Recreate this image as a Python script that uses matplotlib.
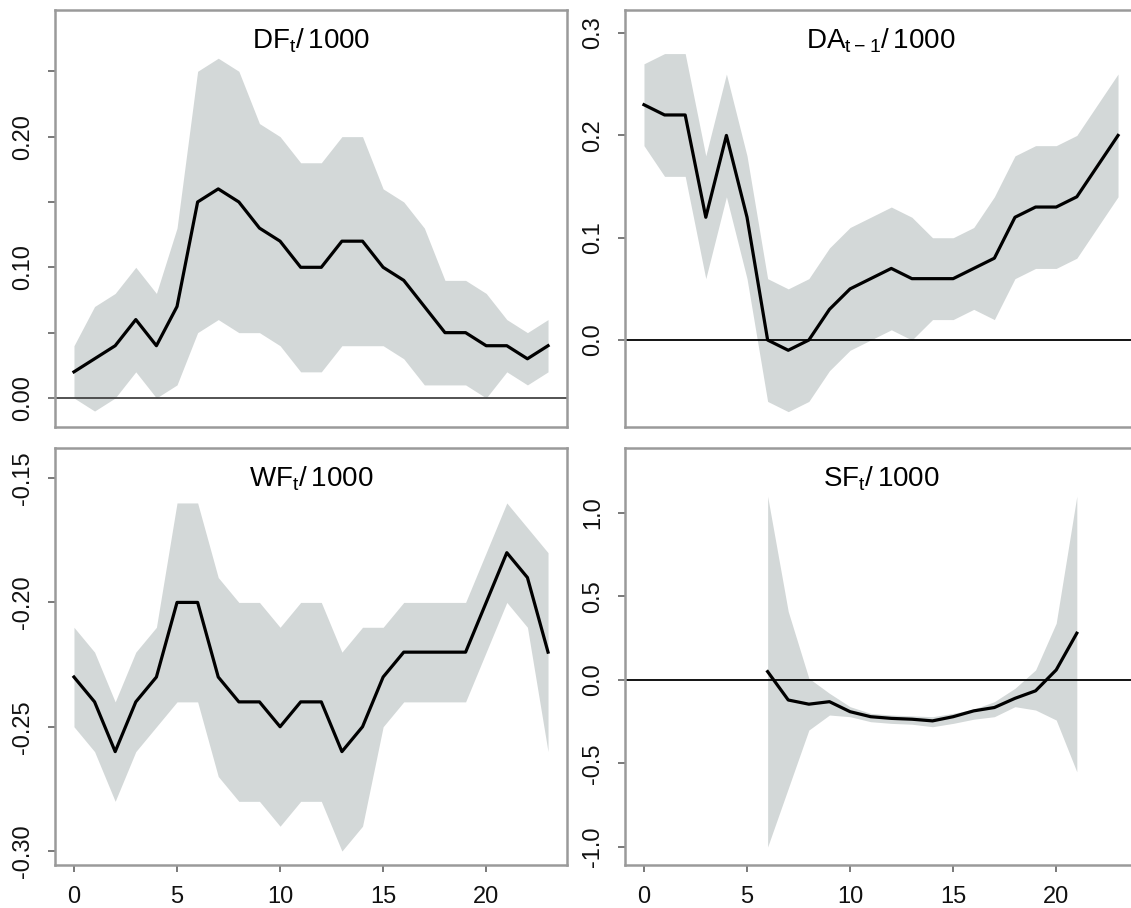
import matplotlib
matplotlib.use("Agg")
import matplotlib.pyplot as plt
import numpy as np

plt.rcParams['font.family'] = ['Liberation Sans', 'DejaVu Sans']
plt.rcParams['mathtext.default'] = 'regular'

hours = np.arange(0, 24)
sf_hours = np.arange(6, 22)

# DF_t / 1000
df_est = [0.02, 0.03, 0.04, 0.06, 0.04, 0.07, 0.15, 0.16, 0.15, 0.13, 0.12, 0.10,
          0.10, 0.12, 0.12, 0.10, 0.09, 0.07, 0.05, 0.05, 0.04, 0.04, 0.03, 0.04]
df_hi = [0.04, 0.07, 0.08, 0.10, 0.08, 0.13, 0.25, 0.26, 0.25, 0.21, 0.20, 0.18,
         0.18, 0.20, 0.20, 0.16, 0.15, 0.13, 0.09, 0.09, 0.08, 0.06, 0.05, 0.06]
df_lo = [0.00, -0.01, 0.00, 0.02, 0.00, 0.01, 0.05, 0.06, 0.05, 0.05, 0.04, 0.02,
         0.02, 0.04, 0.04, 0.04, 0.03, 0.01, 0.01, 0.01, 0.00, 0.02, 0.01, 0.02]

# DA_{t-1} / 1000
da_est = [0.23, 0.22, 0.22, 0.12, 0.20, 0.12, 0.00, -0.01, 0.00, 0.03, 0.05, 0.06,
          0.07, 0.06, 0.06, 0.06, 0.07, 0.08, 0.12, 0.13, 0.13, 0.14, 0.17, 0.20]
da_hi = [0.27, 0.28, 0.28, 0.18, 0.26, 0.18, 0.06, 0.05, 0.06, 0.09, 0.11, 0.12,
         0.13, 0.12, 0.10, 0.10, 0.11, 0.14, 0.18, 0.19, 0.19, 0.20, 0.23, 0.26]
da_lo = [0.19, 0.16, 0.16, 0.06, 0.14, 0.06, -0.06, -0.07, -0.06, -0.03, -0.01, 0.00,
         0.01, 0.00, 0.02, 0.02, 0.03, 0.02, 0.06, 0.07, 0.07, 0.08, 0.11, 0.14]

# WF_t / 1000
wf_est = [-0.23, -0.24, -0.26, -0.24, -0.23, -0.20, -0.20, -0.23, -0.24, -0.24, -0.25, -0.24,
          -0.24, -0.26, -0.25, -0.23, -0.22, -0.22, -0.22, -0.22, -0.20, -0.18, -0.19, -0.22]
wf_hi = [-0.21, -0.22, -0.24, -0.22, -0.21, -0.16, -0.16, -0.19, -0.20, -0.20, -0.21, -0.20,
         -0.20, -0.22, -0.21, -0.21, -0.20, -0.20, -0.20, -0.20, -0.18, -0.16, -0.17, -0.18]
wf_lo = [-0.25, -0.26, -0.28, -0.26, -0.25, -0.24, -0.24, -0.27, -0.28, -0.28, -0.29, -0.28,
         -0.28, -0.30, -0.29, -0.25, -0.24, -0.24, -0.24, -0.24, -0.22, -0.20, -0.21, -0.26]

# SF_t / 1000 (hours 6-21 only)
sf_est = [0.05, -0.12, -0.145, -0.13, -0.19, -0.22, -0.23, -0.235, -0.245, -0.22, -0.185,
          -0.165, -0.11, -0.065, 0.06, 0.28]
sf_hi = [1.10, 0.41, 0.01, -0.08, -0.16, -0.20, -0.21, -0.215, -0.22, -0.20, -0.175,
         -0.13, -0.05, 0.06, 0.34, 1.10]
sf_lo = [-1.00, -0.65, -0.30, -0.21, -0.22, -0.25, -0.26, -0.265, -0.28, -0.26, -0.235,
         -0.22, -0.16, -0.18, -0.24, -0.55]

band_col = '#d3d8d8'
box_col = '#9a9a9a'
tick_col = '#555555'
fs = 17

W, H = 1131.0, 908.0
fig = plt.figure(figsize=(W / 100, H / 100), dpi=100)


def make_ax(left, top):
    # box of 512 x 417 px, given by its top-left corner in pixels
    return fig.add_axes([left / W, (H - top - 417) / H, 512 / W, 417 / H])


def panel(ax, x, est, lo, hi, title, ylim, yticks, ylabels, zero_col, bottom_row):
    ax.fill_between(x, lo, hi, color=band_col, linewidth=0)
    ax.axhline(0, color=zero_col, lw=1.3, zorder=2)
    ax.plot(x, est, color='black', lw=2.3, zorder=3)
    ax.set_xlim(-0.92, 23.92)
    ax.set_ylim(*ylim)
    ax.set_yticks(yticks)
    ax.set_yticklabels(ylabels, rotation=90, va='center')
    ax.text(0.5, 0.927, title, transform=ax.transAxes, ha='center', va='center', fontsize=20)
    for s in ax.spines.values():
        s.set_color(box_col)
        s.set_linewidth(1.8)
    ax.tick_params(direction='out', length=5, width=1.1, color=tick_col,
                   labelsize=fs, pad=10, labelcolor='#111111')
    if bottom_row:
        ax.set_xticks([0, 5, 10, 15, 20])
    else:
        ax.tick_params(axis='x', bottom=False, labelbottom=False)


ax1 = make_ax(55, 10)
panel(ax1, hours, df_est, df_lo, df_hi, r'$DF_t/\,1000$', (-0.0222, 0.2969),
      [0.0, 0.05, 0.10, 0.15, 0.20, 0.25], ['0.00', '', '0.10', '', '0.20', ''],
      '#444444', False)

ax2 = make_ax(625, 10)
panel(ax2, hours, da_est, da_lo, da_hi, r'$DA_{t-1}/\,1000$', (-0.085, 0.3226),
      [0.0, 0.1, 0.2, 0.3], ['0.0', '0.1', '0.2', '0.3'], 'black', False)

ax3 = make_ax(55, 448)
panel(ax3, hours, wf_est, wf_lo, wf_hi, r'$WF_t/\,1000$', (-0.3056, -0.1379),
      [-0.30, -0.25, -0.20, -0.15], ['-0.30', '-0.25', '-0.20', '-0.15'], 'black', True)

ax4 = make_ax(625, 448)
panel(ax4, sf_hours, sf_est, sf_lo, sf_hi, r'$SF_t/\,1000$', (-1.108, 1.389),
      [-1.0, -0.5, 0.0, 0.5, 1.0], ['-1.0', '-0.5', '0.0', '0.5', '1.0'], 'black', True)

fig.savefig('out.png', dpi=100)
